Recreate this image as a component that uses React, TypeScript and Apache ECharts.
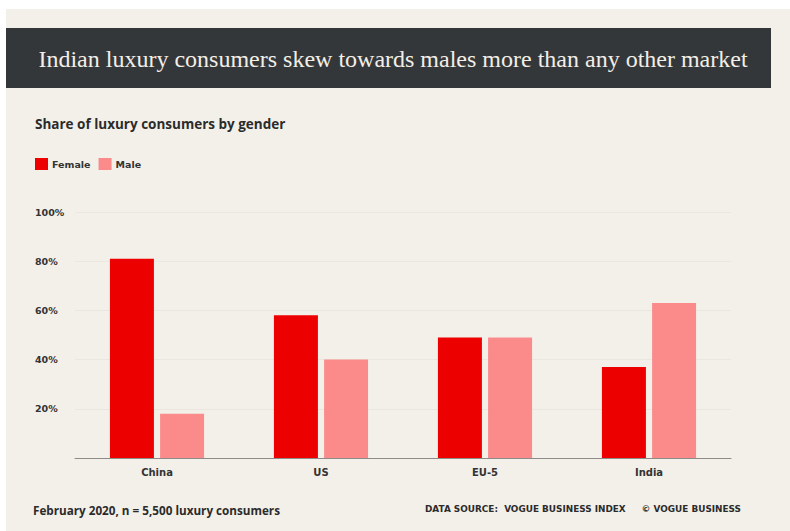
import React, { useEffect, useRef } from "react";
import * as echarts from "echarts";

const categories = ["China", "US", "EU-5", "India"];
const femaleValues = [81, 58, 49, 37];
const maleValues = [18, 40, 49, 63];
const seriesNames = ["Female", "Male"];
const titleText = "Indian luxury consumers skew towards males more than any other market";
const subtitleText = "Share of luxury consumers by gender";
const footLeft = "February 2020, n = 5,500 luxury consumers";
const footRight1 = "DATA SOURCE:  VOGUE BUSINESS INDEX";
const footRight2 = "© VOGUE BUSINESS";

const SANS = "'Open Sans', 'Noto Sans', sans-serif";
const WIDE = "'DejaVu Sans', 'Open Sans', sans-serif";

export default function App() {
  const ref = useRef<HTMLDivElement>(null);
  useEffect(() => {
    if (!ref.current) return;
    const chart = echarts.init(ref.current, undefined, { renderer: "svg" });
    chart.setOption({
      animation: false,
      backgroundColor: "#ffffff",
      graphic: [
        { type: "rect", z: -10, shape: { x: 6, y: 9, width: 790, height: 531 }, style: { fill: "#f3f0ea" } },
        { type: "rect", shape: { x: 6, y: 28, width: 765, height: 60 }, style: { fill: "#343739" } },
        {
          type: "text", x: 393, y: 59,
          style: { text: titleText, fill: "#f2eee8", font: "24px 'Liberation Serif', serif", align: "center", verticalAlign: "middle" },
        },
        {
          type: "text", x: 35, y: 124,
          style: { text: subtitleText, fill: "#2b2b2b", font: `bold 13.5px ${SANS}`, verticalAlign: "middle" },
        },
        {
          type: "text", x: 33, y: 510,
          style: { text: footLeft, fill: "#2b2b2b", font: `bold 11.7px ${SANS}`, verticalAlign: "middle" },
        },
        {
          type: "text", x: 425, y: 509,
          style: { text: footRight1, fill: "#2b2b2b", font: `bold 8.9px ${WIDE}`, verticalAlign: "middle" },
        },
        {
          type: "text", x: 741, y: 509,
          style: { text: footRight2, fill: "#2b2b2b", font: `bold 8.9px ${WIDE}`, verticalAlign: "middle", align: "right" },
        },
      ],
      legend: {
        left: 35,
        top: 158,
        padding: 0,
        itemWidth: 13,
        itemHeight: 12,
        itemGap: 8,
        icon: "rect",
        textStyle: { fontFamily: WIDE, fontSize: 9.5, fontWeight: "bold", color: "#333", padding: [0, 0, 0, -1] },
        data: seriesNames,
      },
      grid: { left: 75, right: 59, top: 212, bottom: 73 },
      xAxis: {
        type: "category",
        data: categories,
        axisLine: { lineStyle: { color: "#8e8c88", width: 1 } },
        axisTick: { show: false },
        axisLabel: { color: "#333", fontFamily: WIDE, fontSize: 10, fontWeight: "bold", margin: 9 },
      },
      yAxis: {
        type: "value",
        min: 0,
        max: 100,
        interval: 20,
        axisLine: { show: false },
        axisTick: { show: false },
        splitLine: { lineStyle: { color: "#ebe6de", width: 1 } },
        axisLabel: {
          formatter: (v: number) => (v === 0 ? "" : v + "%"),
          color: "#333",
          fontFamily: WIDE,
          fontSize: 9.5,
          fontWeight: "bold",
          align: "left",
          margin: 40,
        },
      },
      series: [
        {
          name: seriesNames[0],
          type: "bar",
          data: femaleValues,
          barWidth: 44,
          barGap: "14%",
          itemStyle: { color: "#ec0000" },
        },
        {
          name: seriesNames[1],
          type: "bar",
          data: maleValues,
          barWidth: 44,
          itemStyle: { color: "#fb8b8b" },
        },
      ],
    });
    return () => chart.dispose();
  }, []);
  return <div ref={ref} style={{ position: "fixed", left: 0, top: 0, width: 790, height: 531 }} />;
}
